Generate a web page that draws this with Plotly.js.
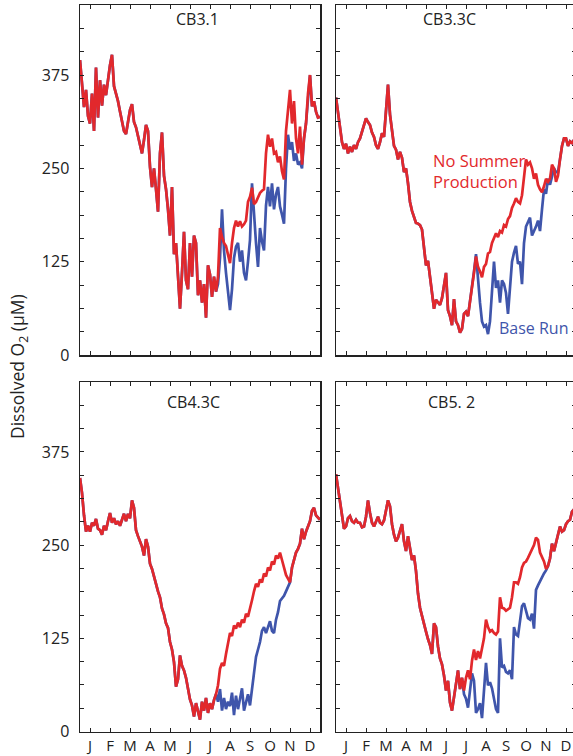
<!DOCTYPE html>
<html><head><meta charset="utf-8">
<script src="https://cdn.plot.ly/plotly-3.0.1.min.js"></script>
<style>html,body{margin:0;padding:0;overflow:hidden;background:#fff}#chart{width:580px;height:756px}</style>
</head><body><div id="chart"></div>
<script>
// ---- data (dissolved O2, µM), sampled every 0.1 month from 1 Jan ----
const monthLabels = ['J','F','M','A','M','J','J','A','S','O','N','D'];
const stations = ['CB3.1','CB3.3C','CB4.3C','CB5. 2'];
const STEP = 0.1;
const yTickLabels = [0,125,250,375];

const noSummer_CB31 = [
395,360,332,355,320,310,350,300,385,318,
368,334,362,348,372,388,402,360,350,340,
326,310,300,296,312,328,336,312,305,292,
280,270,288,308,300,252,225,250,222,192,
270,298,240,222,195,160,225,135,150,100,
62,110,165,100,88,150,105,160,150,80,
100,70,95,50,120,108,78,105,85,105,
170,158,150,146,135,123,150,170,180,172,
179,172,175,180,205,212,224,202,205,212,
217,220,222,270,295,279,290,270,272,258,
266,246,235,300,330,355,310,340,290,270,
306,255,290,310,350,375,333,340,326,318,
319];
const baseStart_CB31 = 69;
const baseTail_CB31 = [
95,130,195,140,110,85,60,88,130,145,
150,125,140,110,100,125,154,230,185,150,
118,170,152,140,200,225,199,230,195,215,
225,199,188,176,250,295,275,285,260,270,
255,258,250,290,310];

const noSummer_CB33C = [
345,325,300,285,276,283,270,279,272,281,
276,285,290,300,310,317,312,308,298,292,
281,276,285,297,292,322,362,322,300,280,
275,262,272,264,245,250,230,205,193,186,
177,176,174,168,140,120,126,105,80,62,
74,70,67,76,95,110,60,52,40,75,
45,40,30,35,55,58,52,70,88,110,
132,118,112,104,118,122,136,138,150,158,
163,158,166,164,174,172,182,186,197,203,
210,205,203,214,238,262,255,258,250,236,
243,228,222,218,226,236,232,236,255,250,
232,240,262,280,290,290,280,286,284,288,
285];
const baseStart_CB33C = 69;
const baseTail_CB33C = [
112,135,100,70,45,38,40,28,45,80,
125,90,100,70,100,95,83,55,95,125,
137,146,122,125,95,150,172,178,184,160,
165,172,180,166,195,222,216,236,228,238,
250,245,245];

const noSummer_CB43C = [
340,320,290,268,276,268,280,276,285,272,
270,264,276,270,282,293,280,286,278,282,
276,285,292,282,292,286,310,300,270,262,
255,248,236,258,248,225,218,206,198,188,
180,165,157,145,139,120,110,93,60,70,
102,88,82,72,55,43,35,20,38,28,
16,40,28,45,25,38,30,42,50,62,
84,92,88,104,118,132,128,142,138,146,
140,150,146,158,154,164,176,188,198,194,
204,200,212,208,220,216,228,224,236,232,
240,230,220,210,205,200,220,232,240,245,
252,272,258,268,275,282,296,300,290,287,
284];
const baseStart_CB43C = 69;
const baseTail_CB43C = [
40,57,28,45,30,40,34,52,22,48,
30,43,58,28,40,50,35,55,80,100,
110,120,135,140,132,140,148,135,132,150,
160,175,178,182,188,193,200];

const noSummer_CB52 = [
345,325,311,285,272,275,286,289,282,280,
284,280,280,274,275,288,310,293,280,275,
283,288,280,278,283,298,310,302,278,264,
255,260,270,278,255,242,262,248,230,236,
215,185,166,155,146,134,124,116,104,145,
140,114,98,90,75,55,68,39,28,45,
62,82,57,72,55,72,82,70,95,110,
96,108,98,112,125,150,140,134,136,132,
130,134,180,166,165,162,164,166,180,200,
200,198,207,220,226,228,233,239,244,250,
260,257,240,234,228,218,222,232,252,242,
254,262,275,268,270,278,282,284,295,298,
295];
const baseStart_CB52 = 64;
const baseTail_CB52 = [
50,44,32,55,78,68,25,30,38,18,
60,92,62,66,58,46,30,25,125,86,
88,80,78,82,70,140,130,128,150,168,
172,160,152,150,158,138,190,196,202,208,
212,216];

// ---- build ----
const RED = '#e2282c', BLUE = '#3f55ab';
const W = 580, H = 756;
const panels = [
  {red:noSummer_CB31, tail:baseTail_CB31, start:baseStart_CB31, x:[80,320], y:[5,355], tx:197, ty:19},
  {red:noSummer_CB33C, tail:baseTail_CB33C, start:baseStart_CB33C, x:[336,576], y:[5,355], tx:449, ty:19},
  {red:noSummer_CB43C, tail:baseTail_CB43C, start:baseStart_CB43C, x:[80,320], y:[382,731.5], tx:193, ty:402},
  {red:noSummer_CB52, tail:baseTail_CB52, start:baseStart_CB52, x:[336,576], y:[382,731.5], tx:451, ty:402}
];
const traces = [];
const layout = {width:W, height:H, margin:{l:0,r:0,t:0,b:0}, showlegend:false,
  paper_bgcolor:'#fff', plot_bgcolor:'#fff', font:{family:'Open Sans', color:'#222'}, annotations:[]};
const yTickVals = [], yTickText = [];
for (let v = 0; v <= 437.5; v += 31.25) { yTickVals.push(v); yTickText.push(yTickLabels.includes(v) ? String(v) : ' '); }
const xTickVals = monthLabels.map((m,i)=>i+0.5);

panels.forEach((p,k)=>{
  const sfx = k===0 ? '' : String(k+1);
  const xs = p.red.map((v,i)=>i*STEP);
  const blue = p.red.slice(0,p.start).concat(p.tail).concat(p.red.slice(p.start+p.tail.length));
  traces.push({x:xs, y:blue, type:'scatter', mode:'lines', line:{color:BLUE, width:2.7}, xaxis:'x'+sfx, yaxis:'y'+sfx, hoverinfo:'skip'});
  traces.push({x:xs, y:p.red, type:'scatter', mode:'lines', line:{color:RED, width:2.7}, xaxis:'x'+sfx, yaxis:'y'+sfx, hoverinfo:'skip'});
  const base = {showline:true, linecolor:'#222', linewidth:1.5, mirror:'ticks', ticks:'inside', ticklen:4, tickwidth:1,
    tickcolor:'#222', showgrid:false, zeroline:false, fixedrange:true, tickfont:{family:'Open Sans', size:16, color:'#222'}};
  layout['xaxis'+sfx] = Object.assign({}, base, {domain:[p.x[0]/W, p.x[1]/W], range:[0,12], tickmode:'array',
    tickvals:xTickVals, ticktext:monthLabels, showticklabels:k>=2, anchor:'y'+sfx, ticklabelstandoff:0,
    tickfont:{family:'Open Sans', size:15, color:'#222'}});
  layout['yaxis'+sfx] = Object.assign({}, base, {domain:[1-p.y[1]/H, 1-p.y[0]/H], range:[0,468.75], tickmode:'array',
    tickvals:yTickVals, ticktext:yTickText, showticklabels:(k%2===0), anchor:'x'+sfx, ticklabelstandoff:6});
  layout.annotations.push({text:stations[k], xref:'paper', yref:'paper', x:p.tx/W, y:1-p.ty/H, showarrow:false,
    xanchor:'center', yanchor:'middle', font:{family:'Open Sans', size:16, color:'#222'}});
});
layout.annotations.push({text:'Dissolved O<sub>2</sub> (μM)', xref:'paper', yref:'paper', x:18/W, y:1-367/H,
  textangle:-90, showarrow:false, xanchor:'center', yanchor:'middle', font:{family:'Open Sans', size:17.5, color:'#222'}});
layout.annotations.push({text:'No Summer<br>Production', xref:'paper', yref:'paper', x:431/W, y:1-171/H, align:'left',
  showarrow:false, xanchor:'left', yanchor:'middle', font:{family:'Open Sans', size:16.5, color:RED}});
layout.annotations.push({text:'Base Run', xref:'paper', yref:'paper', x:497/W, y:1-328/H, align:'left',
  showarrow:false, xanchor:'left', yanchor:'middle', font:{family:'Open Sans', size:16, color:BLUE}});
Plotly.newPlot('chart', traces, layout, {displayModeBar:false, staticPlot:true});
</script></body></html>
